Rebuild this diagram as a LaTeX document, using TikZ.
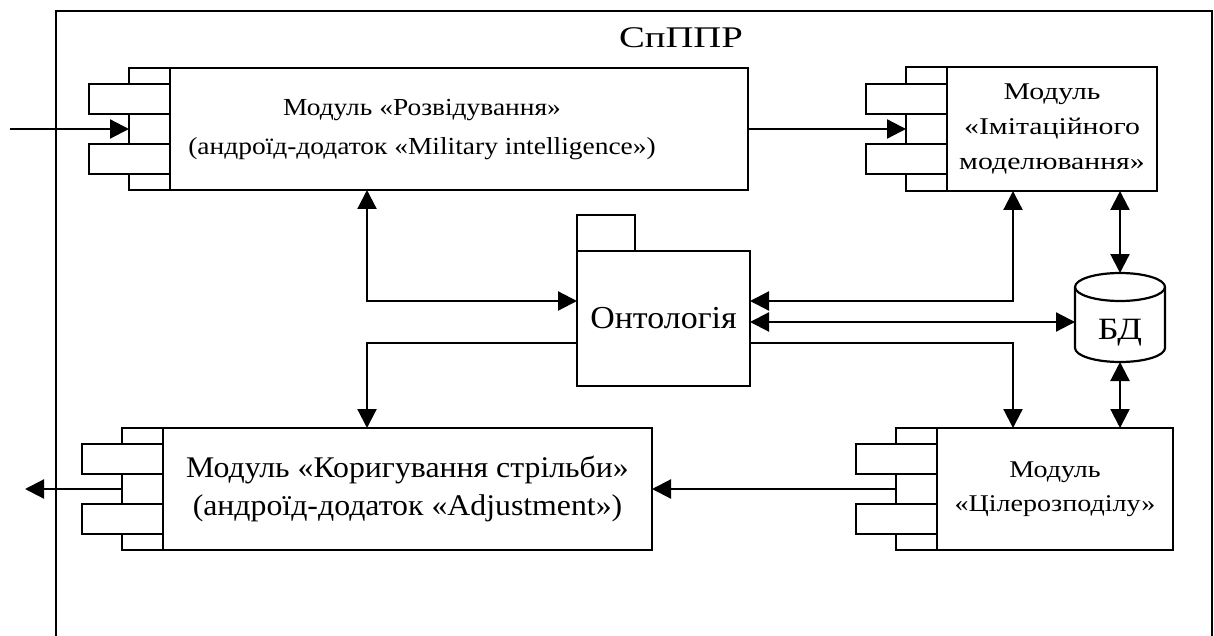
\documentclass[tikz,border=0pt]{standalone}
\usepackage{fontspec}
\setmainfont{Liberation Serif}
\newfontfamily\serifA[FakeStretch=1.29]{Liberation Serif}
\newfontfamily\serifB[FakeStretch=1.12]{Liberation Serif}
\newfontfamily\serifC[FakeStretch=1.24]{Liberation Serif}
\newfontfamily\serifD[FakeStretch=1.17]{Liberation Serif}
\newfontfamily\serifE[FakeStretch=1.06]{Liberation Serif}
\usetikzlibrary{arrows.meta}

% side strip and two tabs of a UML component, left of its main box
\newcommand\modparts[1]{%
  \draw[fill=white] ([xshift=-41pt]#1.north west) rectangle (#1.south west);
  \draw[fill=white] ([xshift=-81pt,yshift=45pt]#1.west) rectangle ([yshift=15pt]#1.west);
  \draw[fill=white] ([xshift=-81pt,yshift=-15pt]#1.west) rectangle ([yshift=-45pt]#1.west);
  \coordinate (#1-port) at ([xshift=-41pt]#1.west);
}
\newcommand\fs[2]{\fontsize{#1}{#2}\selectfont}

\begin{document}
\begin{tikzpicture}[x=1pt,y=-1pt,line width=2.2pt,
  every node/.style={inner sep=0pt,outer sep=0pt},
  modbox/.style={draw,fill=white,align=center},
  tip/.tip={Triangle[length=19pt,width=19pt]},
  conn/.style={-tip},
  biconn/.style={tip-tip}]
\clip (0,0) rectangle (1214,636);
\fill[white] (0,0) rectangle (1214,636);

% system boundary
\draw (56,660) -- (56,11) -- (1212,11) -- (1212,660);
\node[font=\serifA\fs{30}{34}] (title) at (681,38) {СпППР};

% modules
\node[modbox,minimum width=578pt,minimum height=122pt] (m1) at (459,129) {};
\modparts{m1}
\node[align=center,font=\serifB\fs{24.5}{39}] (m1t) at (422,130)
  {Модуль «Розвідування»\\(андроїд-додаток «Military intelligence»)};

\node[modbox,minimum width=210pt,minimum height=124pt,font=\serifC\fs{24}{35}] (m2) at (1052,129)
  {Модуль\\«Імітаційного\\моделювання»};
\modparts{m2}

\node[modbox,minimum width=236pt,minimum height=122pt,font=\serifD\fs{24}{34}] (m3) at (1055,489)
  {Модуль\\«Цілерозподілу»};
\modparts{m3}

\node[modbox,minimum width=489pt,minimum height=122pt,font=\serifE\fs{30}{38}] (m4) at (407.5,489)
  {Модуль «Коригування стрільби»\\(андроїд-додаток «Adjustment»)};
\modparts{m4}

% ontology package
\node[modbox,minimum width=173pt,minimum height=135pt,font=\serifE\fs{32}{36}] (onto) at (663.5,318.5) {Онтологія};
\draw ([yshift=36pt]onto.north west) rectangle ([xshift=58pt]onto.north west);

% database cylinder
\node[minimum width=90pt,minimum height=89pt] (db) at (1120,317.5) {};
\draw[fill=white] ([yshift=-14pt]db.north west) -- ([yshift=14pt]db.south west)
  arc[start angle=180,end angle=360,x radius=45pt,y radius=14pt]
  -- ([yshift=-14pt]db.north east)
  arc[start angle=0,end angle=180,x radius=45pt,y radius=14pt] -- cycle;
\draw ([yshift=-14pt]db.north west) arc[start angle=180,end angle=360,x radius=45pt,y radius=14pt];
\node[font=\serifD\fs{31}{34}] (dbt) at ([yshift=-15pt]db.center) {БД};

% routing columns and outer ends
\coordinate (in) at (10,129);
\coordinate (out) at (25,489);
\coordinate (xl) at (367,0);
\coordinate (xr) at (1013,0);

% connectors
\draw[conn] (in) -- (m1-port);
\draw[conn] (m1.east) -- (m2-port);
\draw[biconn] (m1.south -| xl) |- ([yshift=17.5pt]onto.west);
\draw[conn] ([yshift=-24.5pt]onto.west) -| (m4.north -| xl);
\draw[biconn] ([yshift=17.5pt]onto.east) -| (m2.south -| xr);
\draw[biconn] ([yshift=-3.5pt]onto.east) -- ([yshift=-4.5pt]db.west);
\draw[conn] ([yshift=-24.5pt]onto.east) -| (m3.north -| xr);
\draw[biconn] (m2.south -| db.north) -- (db.north);
\draw[biconn] (db.south) -- (m3.north -| db.south);
\draw[conn] (m3-port) -- (m4.east);
\draw[conn] (m4-port) -- (out);
\end{tikzpicture}
\end{document}
